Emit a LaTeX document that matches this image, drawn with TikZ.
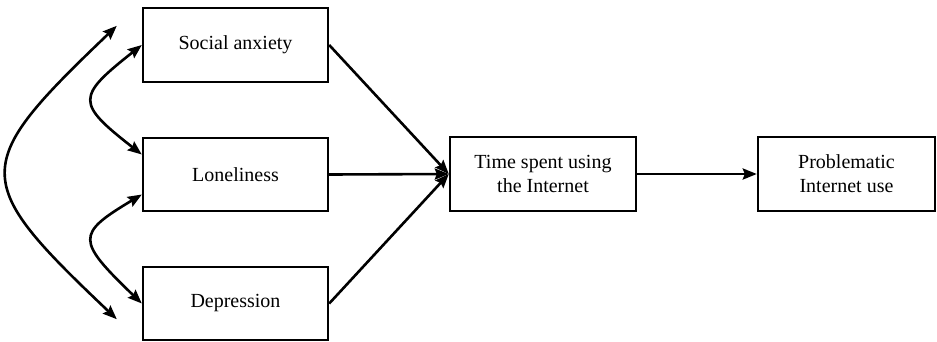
\documentclass[tikz,border=0pt]{standalone}
\usepackage{fontspec}
\setmainfont{Liberation Serif}
\usetikzlibrary{arrows.meta,calc}

\tikzset{
  box/.style={draw, line width=2.4pt, rectangle, align=center,
    minimum height=74pt, inner sep=0pt,
    font=\fontsize{20}{24}\selectfont},
  link/.style={line width=2.6pt, -{Stealth[length=14pt,width=11pt,inset=2pt]}},
  corr/.style={line width=2.6pt,
    {Stealth[length=14pt,width=11pt,inset=2pt]}-{Stealth[length=14pt,width=11pt,inset=2pt]}},
}

\begin{document}
\begin{tikzpicture}[x=1pt,y=-1pt]
  \useasboundingbox (0,0) rectangle (937,341);

  % predictor boxes
  \node[box, minimum width=185pt] (soc) at (235.5,45)  {Social anxiety};
  \node[box, minimum width=185pt, minimum height=73pt] (lon) at (235.5,174.5) {Loneliness};
  \node[box, minimum width=185pt, minimum height=73pt] (dep) at (235.5,303.5) {Depression};

  % mediator and outcome
  \node[box, minimum width=186pt] (time) at (543,174) {Time spent using\\the Internet};
  \node[box, minimum width=177pt] (prob) at (846.5,174) {Problematic\\Internet use};

  % paths into the mediator
  \draw[link] (soc.east) -- (time.west);
  \draw[link] (lon.east) -- (time.west);
  \draw[link] (dep.east) -- (time.west);
  \draw[link] (time.east) -- (prob.west);

  % correlations among predictors
  \coordinate (outA) at ($(soc.north west)+(-25,19)$);
  \coordinate (outB) at ($(dep.south west)+(-25,-22)$);
  \coordinate (lonU) at ($(lon.west)+(0,-20)$);
  \coordinate (lonL) at ($(lon.west)+(0,20)$);

  \draw[corr] (outA) .. controls (-30,166) and (-30,180) .. (outB);
  \draw[corr] (soc.west) .. controls (76,97) and (76,103) .. (lonU);
  \draw[corr] (lonL) .. controls (76,234) and (76,240) .. (dep.west);
\end{tikzpicture}
\end{document}
